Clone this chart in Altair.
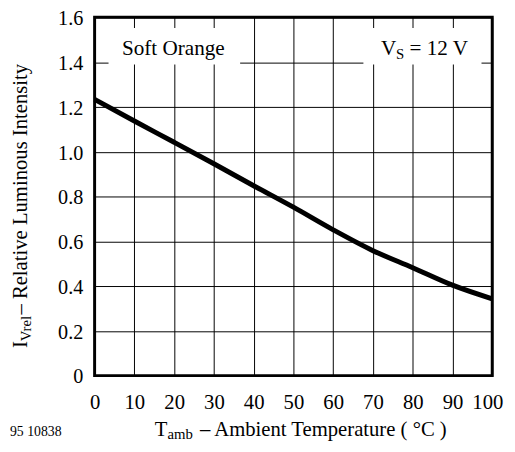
import altair as alt
import pandas as pd

# ---- data ----
temperature = [0, 10, 20, 30, 40, 50, 60, 70, 80, 90, 100]
rel_intensity = [1.234, 1.137, 1.042, 0.946, 0.848, 0.752, 0.651, 0.558, 0.482, 0.404, 0.343]
x_ticks = [0, 10, 20, 30, 40, 50, 60, 70, 80, 90, 100]
y_ticks = [0, 0.2, 0.4, 0.6, 0.8, 1.0, 1.2, 1.4, 1.6]

# annotation boxes / texts (data coordinates)
box_x = [3.5, 67.6]
box_x2 = [36.6, 97.3]
box_y = [1.389, 1.389]
box_y2 = [1.552, 1.552]

label_x = [19.8, 72.0, 75.8, 79.2]
label_y = [1.43, 1.43, 1.412, 1.43]
label_txt = ["Soft Orange", "V", "S", "= 12 V"]
label_size = [21.5, 21.5, 15, 21.5]
label_align = ["center", "left", "left", "left"]

FONT = "Liberation Serif"
W, H = 404, 364

df = pd.DataFrame({"t": temperature, "i": rel_intensity})
boxes = pd.DataFrame({"x": box_x, "x2": box_x2, "y": box_y, "y2": box_y2})

xscale = alt.Scale(domain=[0, 100], nice=False, zero=False)
yscale = alt.Scale(domain=[0, 1.6], nice=False, zero=True)

x_axis = alt.Axis(values=x_ticks, title=None, grid=True, gridColor="black", gridWidth=1,
                  gridOpacity=1, ticks=False, domain=False, labelFont=FONT, labelFontSize=21,
                  labelColor="black", labelPadding=16, labelFlush=False, labelOverlap=False,
                  labelOffset={"condition": {"test": "datum.value == 100", "value": -5},
                               "value": 0})
y_axis = alt.Axis(values=y_ticks, title=None, grid=True, gridColor="black", gridWidth=1,
                  gridOpacity=1, ticks=False, domain=False, labelFont=FONT, labelFontSize=20.5,
                  labelColor="black", labelPadding=12, labelFlush=False, labelOverlap=False,
                  labelOffset=1.5,
                  labelExpr="datum.value == 0 ? '0' : format(datum.value, '.1f')")

line = alt.Chart(df).mark_line(color="black", strokeWidth=5, interpolate="monotone").encode(
    x=alt.X("t:Q", scale=xscale, axis=x_axis),
    y=alt.Y("i:Q", scale=yscale, axis=y_axis),
)

rects = alt.Chart(boxes).mark_rect(color="white").encode(
    x=alt.X("x:Q", scale=xscale), x2="x2", y=alt.Y("y:Q", scale=yscale), y2="y2"
)

def in_text(i):
    d = pd.DataFrame({"x": [label_x[i]], "y": [label_y[i]], "txt": [label_txt[i]]})
    return alt.Chart(d).mark_text(font=FONT, fontSize=label_size[i], align=label_align[i],
                                  baseline="alphabetic", color="black").encode(
        x=alt.X("x:Q", scale=xscale), y=alt.Y("y:Q", scale=yscale), text="txt:N")

inner_texts = [in_text(i) for i in range(len(label_txt))]

def px_text(txt, x, y, size, angle=0):
    return alt.Chart(pd.DataFrame({"a": [0]})).mark_text(
        text=txt, font=FONT, fontSize=size, align="left", baseline="alphabetic",
        color="black", angle=angle).encode(x=alt.value(x), y=alt.value(y))

outer = [
    px_text("T", 61, 425, 21),
    px_text("amb", 74, 428.5, 15),
    px_text("– Ambient Temperature ( °C )", 107, 425, 21),
    px_text("95 10838", -86, 425, 14),
    px_text("I", -69, 336, 21, 270),
    px_text("Vrel", -65, 329, 15, 270),
    px_text("– Relative Luminous Intensity", -69, 302, 21, 270),
]

chart = alt.layer(line, rects, *inner_texts, *outer).properties(
    width=W, height=H,
    autosize=alt.AutoSizeParams(type="none"),
    padding={"left": 88, "top": 6, "right": 15, "bottom": 66},
).configure_view(stroke="black", strokeWidth=3)

chart.save("out.html", embed_options={"renderer": "svg", "actions": False})
